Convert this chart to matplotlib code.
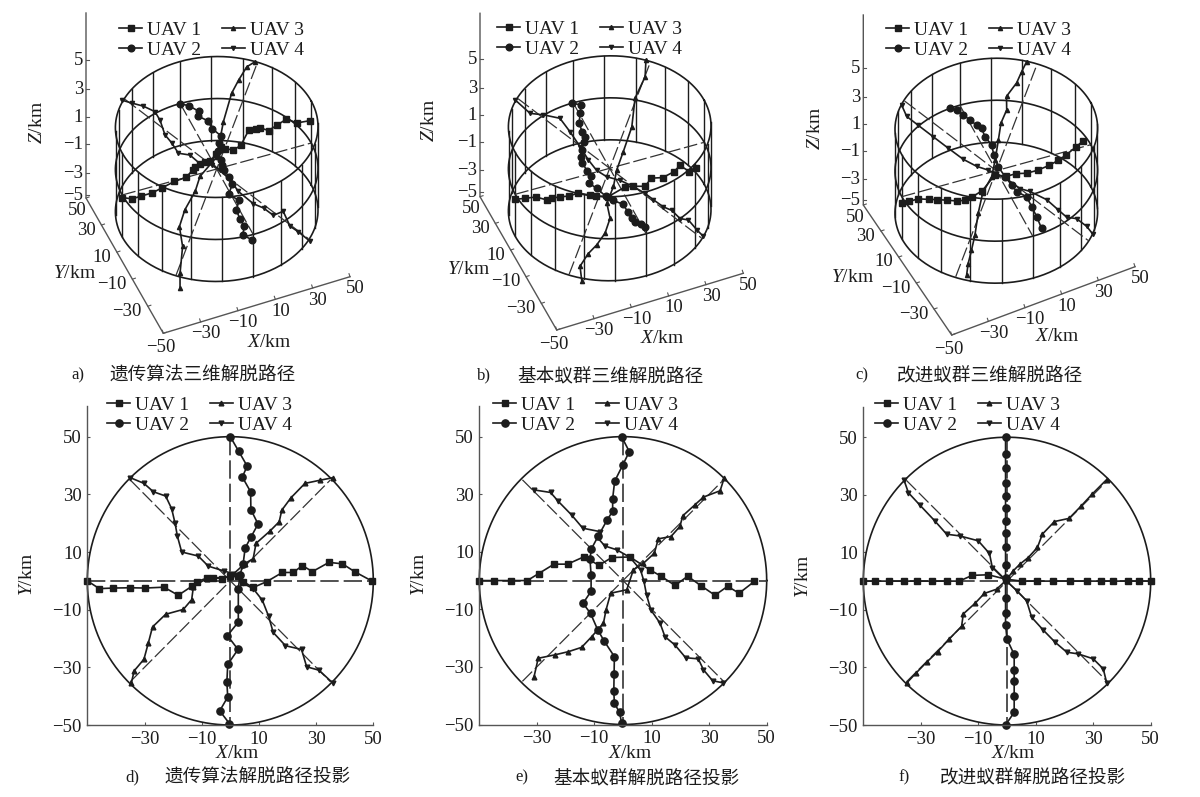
import numpy as np
import matplotlib
matplotlib.use("Agg")
import matplotlib.pyplot as plt

W, H = 1200, 797
plt.rcParams['font.family'] = ['Liberation Serif', 'Noto Sans CJK SC', 'DejaVu Sans']
plt.rcParams['mathtext.fontset'] = 'custom'
plt.rcParams['mathtext.it'] = 'Liberation Serif:italic'
plt.rcParams['mathtext.rm'] = 'Liberation Serif'

LABELS = ['UAV 1', 'UAV 2', 'UAV 3', 'UAV 4']
X_TICKS = [-30, -10, 10, 30, 50]
Y_TICKS = [-50, -30, -10, 10, 30, 50]
Z_TICKS = [-5, -3, -1, 1, 3, 5]
AXIS_3D_X = [-50, -30, -10, 10, 30, 50]

# planned straight paths
PLAN_X = [[-50, 50], [0, 0], [-35, 35], [-35, 35]]
PLAN_Y = [[0, 0], [50, -50], [-35, 35], [35, -35]]
PLAN_Z = [[0, 0], [0, 0], [-5, 5], [5, -5]]

# d) genetic algorithm, projection
D1_X = [-50, -45.8, -40.9, -35, -29.8, -23.2, -18.2, -13.3, -11.8, -8.3, -5.9, -3, 0, 2.8, 4.5, 8, 12.7, 18.2, 22, 25.2, 28.7, 34.5, 39.2, 43.6, 49.4]
D1_Y = [0, -2.7, -2.5, -2.4, -2.5, -2.2, -5, -1.8, -0.3, 0.9, 1, 0.8, 1.6, 1.6, -0.3, -2.3, -0.3, 2.9, 2.9, 5.3, 3.2, 6.4, 5.9, 3.1, 0]
D2_X = [0, 2.9, 5.9, 4.2, 7.1, 7.2, 9.7, 7.3, 5.2, 4.5, 3.4, 2.8, 2.8, 2.8, -1, 2.7, -0.9, -1.2, -0.9, -3.7, -0.3]
D2_Y = [50, 45, 39.8, 36, 30.9, 24.7, 19.7, 15.3, 11.4, 6, 2, -2.7, -9.6, -14.3, -19, -23.8, -29, -35.1, -40.3, -45.1, -49.5]
D3_X = [-34.6, -33.6, -30.2, -28.7, -27.2, -22.6, -16.4, -13.5, -12.9, -8.3, 0, 5.1, 8, 9, 13.9, 17.1, 18, 21.2, 26.1, 31.4, 36]
D3_Y = [-35.4, -31.2, -27.2, -21.7, -16, -11.6, -9.9, -6.5, -2, 0.8, 1.4, 6, 7.7, 13, 17.3, 20.5, 24.5, 28.8, 33.8, 34.9, 35.8]
D4_X = [-35, -30.2, -26.9, -22.6, -20.5, -19.3, -18.5, -17, -11.2, -7.7, -2.2, 1, 4.5, 8, 11.2, 13.4, 15, 19.3, 24.9, 26.7, 31, 35.8]
D4_Y = [35.8, 33.8, 30.9, 29.4, 25, 19.9, 15.5, 10, 8.6, 5.1, 3.4, 2.5, -0.9, -2.7, -6.7, -12.3, -17.9, -22.5, -23.8, -29.8, -31, -35.4]

# e) basic ant colony, projection
E1_X = [-50, -44.9, -39, -33.3, -29.4, -24, -19.3, -13.5, -8.4, -3.9, 2.4, 9.4, 13.1, 18.1, 22.5, 27.3, 32, 36.4, 40.4, 45.7]
E1_Y = [0, 0, 0, 0, 2.4, 5.7, 5.7, 8.3, 5.3, 8, 8.2, 3.7, 1.6, -1.7, 1.5, -1.9, -5.1, -2, -4.4, -0.3]
E2_X = [-0.5, 2.2, -0.1, -2.9, -3.6, -3.6, -5.6, -8.6, -11, -11.5, -11.1, -11.1, -13.9, -11.3, -8.8, -6.5, -3, -3.1, -3.2, -3, -1.2, -0.5]
E2_Y = [50, 44.8, 40.1, 34.5, 28.5, 24.1, 20.9, 15.5, 11, 7.5, 2, -3.7, -7.9, -11.4, -17.1, -21.1, -26.4, -32.6, -38.4, -42.6, -45.8, -49.4]
E3_X = [-31, -29.5, -23.7, -19, -14.4, -10.9, -6.8, -5.9, -4.3, 1.3, 3.6, 7.1, 10.9, 12.3, 16.7, 19.8, 20.8, 25, 28, 33.8, 35.2]
E3_Y = [-33.6, -27, -25.8, -24.7, -23.2, -19.5, -14.8, -10.2, -4.4, -3.2, 3.7, 6, 9.5, 14.5, 15.3, 18.8, 22.5, 26.3, 29, 31.2, 35.6]
E4_X = [-31, -25.2, -22.5, -17.9, -14, -8, -9.2, -6.3, -2.2, 2.4, 6.1, 7.3, 8.2, 9.7, 12.9, 14.6, 18.1, 21.8, 26.2, 28, 31.2, 34.7]
E4_Y = [31.5, 30.6, 27.5, 22.8, 18.2, 17, 15.3, 12, 10.7, 8.1, 3.7, -0.3, -5, -10.2, -14.8, -19.5, -22.4, -26.8, -27.2, -31, -34.8, -35.5]

# f) improved ant colony, projection
F1_X = [-50, -46, -41.2, -35.8, -31.2, -26.1, -21, -16.6, -12.1, -6.5, -0.5, 5.1, 10.6, 16.1, 21.9, 28, 32.7, 37, 42, 45.9, 50]
F1_Y = [0, 0, 0, 0, 0, 0, 0, 0, 2, 2.2, 0.7, 0, 0, 0, 0, 0, 0, 0, 0, 0, 0]
F2_X = [-0.5, -0.5, -0.5, -0.5, -0.5, -0.5, -0.5, -0.5, -0.5, -0.5, -0.5, -0.5, -0.5, -0.5, 0, 2.5, 2.5, 2.5, 2.5, 2.5, -0.5]
F2_Y = [50, 44.2, 39.3, 34.2, 29.5, 25.3, 21, 16.6, 11.7, 5.7, 1, -6, -11, -15.2, -20.2, -25.5, -30.9, -34.7, -39.8, -45.6, -50]
F3_X = [-34.9, -31.7, -28, -24.1, -20.1, -15.8, -15.2, -11.1, -7.9, -3.6, -0.5, 2.2, 4.5, 7.4, 10.6, 12.3, 16.5, 21.6, 25.8, 29.5, 34.7]
F3_Y = [-35.4, -32, -28.2, -24.5, -20.1, -15.7, -11.4, -7.7, -4.3, -2.8, 0.1, 3.6, 5.9, 8.2, 11.7, 16.3, 20.7, 21.8, 26.1, 30.1, 35.3]
F4_X = [-35.8, -34.3, -30.3, -25.1, -21, -16.4, -10, -6.1, -5.1, -0.5, 3.4, 6.8, 8.6, 12.6, 16.7, 20.8, 24.8, 30, 33.5, 34.7]
F4_Y = [35, 30.7, 26.4, 20.9, 16.3, 15.7, 14, 9.6, 4.7, 0.3, -3.3, -6.8, -12.6, -17, -21.2, -24.7, -25.3, -27, -30.5, -35.4]

# a) genetic algorithm, 3D
A1_Z = [-0.3, -0.3, -0.3, -0.3, 0, 0.3, 0.9, 1, 1, 1, 1, 1, 1.5, 2.2, 2.2, 2.1, 2.1, 3.1, 3, 2.5, 2.3, 2.1, 2.6, 2.3, 2.7]
A2_Z = [0, 0.3, 0.3, 0.4, 0.5, 0.5, 0.3, 0.2, 0.1, -0.1, 0, 0.1, 0.4, 0.3, 0, -0.2, -0.3, -0.4, -0.5, -0.6, -0.7]
A3_X = [-35.5, -33, -27.5, -25.6, -20.5, -13, -8.5, 2, 10.7, 18.9, 24.1, 29.8, 34.2]
A3_Y = [-41.7, -35.2, -24.5, -15.2, -9.5, -4.2, 0.9, 5.2, 18.5, 28.5, 32.5, 36, 36.2]
A3_Z = [-5.5, -4.9, -3.7, -2.9, -2.1, -1.2, -0.5, 0.5, 2.1, 3.4, 4, 4.7, 5]
A4_X = [-37, -32.2, -26.6, -21.4, -20.4, -20.8, -18.9, -17.4, -11.5, -7.8, -1.8, 1.6, 4.9, 7, 12.7, 17.1, 21, 27, 27.6, 31.1, 35.3]
A4_Y = [34.6, 33, 31.6, 29.2, 24.8, 17, 12.7, 7.4, 6.9, 2.6, 2, -0.4, -5.5, -11.6, -17.5, -19.9, -23.2, -21.2, -29, -31.5, -36.5]
A4_Z = [5.1, 4.7, 4.2, 3.6, 3.2, 2.7, 2.3, 1.8, 1.3, 0.7, 0.3, -0.1, -0.7, -1.3, -2.2, -2.6, -3.2, -3.4, -4, -4.5, -5.1]

# b) basic ant colony, 3D
B1_Z = [-0.6, -0.8, -1, -1.7, -2.1, -2.8, -3, -3.4, -3.5, -4.3, -4.8, -3.4, -3.2, -3, -2.8, -2.5, -1.6, -1.6, -2.2, -2.8]
B2_Z = [0, 0.4, 0.3, 0.2, 0.15, 0.15, 0.2, 0.3, 0.3, 0.2, 0, 0.3, 0.3, 0.1, -0.1, -0.1, 0, 0.1, 0.3, 0.4, 0.6, 0.7]
B3_X = [-30.7, -29, -23.3, -18.2, -12.7, -8.1, -7, -1.4, 2.7, 8.6, 16.4, 22.5, 30.4, 33.5]
B3_Y = [-41.3, -34.4, -30.9, -29.4, -26.5, -21.5, -14.2, -8.8, -2.5, 3.6, 12.2, 23.5, 30.2, 37.1]
B3_Z = [-5.1, -4.5, -3.9, -3.4, -2.8, -2.1, -1.5, -0.7, 0, 0.9, 2, 3.3, 4.3, 5]
B4_X = [-36.9, -31.5, -24.7, -16.5, -13.8, -11.5, -9.8, -7.4, -3.3, 3.2, 9, 13.9, 16.9, 21, 24.8, 27.6, 31.7, 34.1, 36.3]
B4_Y = [34.3, 27.5, 26.9, 25.5, 18.6, 10.9, 4, -1.2, -4.5, -6, -9.2, -12.5, -15.9, -19.2, -20.8, -25, -25.7, -30.9, -34.3]
B4_Z = [5.1, 4.2, 3.7, 3, 2.3, 1.6, 1, 0.4, -0.1, -0.7, -1.3, -1.9, -2.3, -2.9, -3.3, -3.8, -4.1, -4.6, -5]

# c) improved ant colony, 3D
C1_X = [-50, -46, -41.2, -35.8, -31.2, -26.1, -21, -16.6, -12.1, -6.5, -0.5, 5.1, 10.6, 16.1, 21.9, 28, 32.7, 37, 42, 45.9]
C1_Y = [0, 0, 0, 0, 0, 0, 0, 0, 2, 2.2, 0.7, 0, 0, 0, 0, 0, 0, 0, 0, 0]
C1_Z = [-0.8, -0.8, -0.8, -1.2, -1.5, -1.9, -2.3, -2.5, -2.7, -2.3, -0.6, -1, -1, -1.3, -1.3, -1.1, -0.8, -0.4, 0.2, 0.7]
C2_X = [-5.3, -2.7, -0.9, 0.9, 2.6, 4.1, 3.5, 4.4, 2.9, 1.9, 2.5, 3.4, 4, 7.3, 7, 6.8, 6]
C2_Y = [49.7, 47.4, 42.8, 38.3, 33.8, 30.7, 24.6, 17.9, 10.8, 2.3, -5.6, -12.3, -17.6, -22.7, -30.2, -37.8, -46.4]
C2_Z = [0, 0, 0, 0, 0, 0, 0, 0, 0, 0, 0, 0, 0, 0, 0, 0, 0]
C3_X = [-30, -27.4, -23.8, -19.8, -14.8, -9.6, -3, 1.2, 5.9, 9.8, 14.5, 16.6, 23.2, 27.2, 31.1]
C3_Y = [-37, -32.4, -27.6, -22, -13.6, -6.2, -1.4, 4.8, 12.5, 19, 23.3, 29, 32.2, 35.8, 38.9]
C3_Z = [-4.8, -4.3, -3.7, -3, -2, -1.1, -0.3, 0.4, 1.3, 2.1, 2.7, 3.3, 4, 4.5, 5]
C4_X = [-37.4, -37.1, -32.6, -26.9, -21.2, -15.5, -9.6, -4.2, 2.5, 9.1, 13.8, 21.1, 25.3, 28.3, 33.4, 37.1, 38.8]
C4_Y = [32.8, 26.7, 22.6, 16.7, 10.8, 5.3, 2, 0.2, -3.1, -8.9, -10.4, -14.5, -19.5, -22.9, -23.6, -27.7, -31.6]
C4_Z = [5, 4.6, 3.9, 3.1, 2.3, 1.5, 0.8, 0.3, -0.4, -1.3, -1.7, -2.5, -3.2, -3.7, -4.1, -4.6, -5]

MARKERS = ['s', 'o', '^', 'v']
SIZES = [4.6, 5.2, 3.4, 3.4]
INK = '#1c1c1c'
GREY = '#555555'
FS = 14
TICK_FS = 13.5


def px_rect(x0, y0, x1, y1):
    return [x0 / W, 1 - y1 / H, (x1 - x0) / W, (y1 - y0) / H]


def project(x, y, z, c):
    x, y, z = np.asarray(x, float), np.asarray(y, float), np.asarray(z, float)
    return c[0] + 1.89 * x - 0.73 * y, c[1] - 0.52 * x - 1.31 * y - 8.4 * z


def make_legend(handles, xtext, ymid):
    fig.legend(handles, LABELS, ncols=2, loc='center left', frameon=False, fontsize=FS,
               bbox_to_anchor=((xtext - 29) / W, 1 - ymid / H), borderpad=0, borderaxespad=0,
               handlelength=1.2, handletextpad=0.25, columnspacing=1.05, labelspacing=0.12,
               labelcolor=INK)


def draw_panel_2d(rect, paths, xtext, ymid):
    # top of the axes runs on past y=50 up to about y=60.5
    ax = fig.add_axes(px_rect(*rect))
    ax.patch.set_alpha(0)
    ax.set_xlim(-50, 50)
    ax.set_ylim(-50, 60.5)
    for s in ['top', 'right']:
        ax.spines[s].set_visible(False)
    for s in ['left', 'bottom']:
        ax.spines[s].set_color(GREY)
        ax.spines[s].set_linewidth(1.0)
    ax.set_xticks(X_TICKS)
    ax.set_yticks(Y_TICKS)
    ax.tick_params(direction='in', length=2.5, width=0.8, color=GREY, labelsize=TICK_FS,
                   labelcolor=INK, pad=4)
    t = np.linspace(0, 2 * np.pi, 300)
    ax.plot(50 * np.cos(t), 50 * np.sin(t), color=INK, lw=1.2, clip_on=False)
    for i in range(4):
        ax.plot(PLAN_X[i], PLAN_Y[i], color='#333333', lw=1.2 if i < 2 else 0.9,
                dashes=(11, 3), clip_on=False)
    handles = []
    for i, (px, py) in enumerate(paths):
        h, = ax.plot(px, py, color=INK, lw=1.2, marker=MARKERS[i], ms=SIZES[i], clip_on=False)
        handles.append(h)
    make_legend(handles, xtext, ymid)


def draw_panel_3d(c, paths, origin, y_end, x_end, z_top, z_px, xtext, ymid):
    # cylinder
    t = np.linspace(0, 2 * np.pi, 300)
    for z in [-5, 0, 5]:
        sx, sy = project(50 * np.cos(t), 50 * np.sin(t), np.full_like(t, z), c)
        ov.plot(sx, sy, color=INK, lw=1.2)
    for ang in np.deg2rad(np.arange(0, 360, 18)):
        sx, sy = project([50 * np.cos(ang)] * 2, [50 * np.sin(ang)] * 2, [-5, 5], c)
        ov.plot(sx, sy, color=INK, lw=1.0)
    # planned
    for i in range(4):
        sx, sy = project(PLAN_X[i], PLAN_Y[i], PLAN_Z[i], c)
        ov.plot(sx, sy, color='#333333', lw=0.9, dashes=(11, 3))
    handles = []
    for i, (px, py, pz) in enumerate(paths):
        sx, sy = project(px, py, pz, c)
        h, = ov.plot(sx, sy, color=INK, lw=1.2, marker=MARKERS[i], ms=SIZES[i] - 0.4)
        handles.append(h)
    make_legend(handles, xtext, ymid)

    # frame of the axes box
    ox, oy = origin
    ov.plot([x_end[0], ox, y_end[0], y_end[0]], [x_end[1], oy, y_end[1], z_top],
            color=GREY, lw=1.0)
    for v in AXIS_3D_X:
        f = (v + 50) / 100
        tx, ty = ox + f * (x_end[0] - ox), oy + f * (x_end[1] - oy)
        ov.plot([tx, tx - 1, ], [ty, ty - 3], color=GREY, lw=0.8)
        ov.text(tx + 5 if v > -50 else tx - 3, ty + 12 if v > -50 else ty + 14,
                str(v).replace('-', '\u2212'),
                fontsize=TICK_FS, color=INK, ha='center', va='center')
        ux, uy = ox + f * (y_end[0] - ox), oy + f * (y_end[1] - oy)
        ov.plot([ux, ux + 3], [uy, uy - 1], color=GREY, lw=0.8)
        if v == 50:
            ov.text(ux + 1, uy + 12, str(v), fontsize=TICK_FS, color=INK, ha='right', va='center')
        elif v > -50:
            ov.text(ux - 6, uy + 5, str(v).replace('-', '\u2212'), fontsize=TICK_FS,
                    color=INK, ha='right', va='center')
    for v, yz in zip(Z_TICKS, z_px):
        ov.plot([y_end[0], y_end[0] + 3], [yz, yz], color=GREY, lw=0.8)
        ov.text(y_end[0] - 3, yz, str(v).replace('-', '\u2212'), fontsize=TICK_FS, color=INK,
                ha='right', va='center')


def axis_text(x, y, s, rot=0):
    ov.text(x, y, s, fontsize=14, color=INK, ha='center', va='center', rotation=rot)


def caption(xa, xt, y, tag, s):
    ov.text(xa, y, tag, fontsize=12, color=INK, ha='left', va='center')
    ov.text(xt, y + 1, s, fontsize=13.4, color=INK, ha='left', va='center',
            family=['Noto Sans CJK SC', 'DejaVu Sans'])


fig = plt.figure(figsize=(W / 100, H / 100), dpi=100)
ov = fig.add_axes([0, 0, 1, 1])
ov.set_xlim(0, W)
ov.set_ylim(H, 0)
ov.axis('off')

draw_panel_3d((216.7, 169), [(D1_X, D1_Y, A1_Z), (D2_X, D2_Y, A2_Z), (A3_X, A3_Y, A3_Z), (A4_X, A4_Y, A4_Z)],
              (163.3, 333.3), (86, 198), (350, 276.7), 13, [195, 173, 144, 117, 89, 60], 148, 40)
draw_panel_3d((609.7, 168.3), [(E1_X, E1_Y, B1_Z), (E2_X, E2_Y, B2_Z), (B3_X, B3_Y, B3_Z), (B4_X, B4_Y, B4_Z)],
              (556.7, 330), (480, 196.7), (743.3, 273.3), 13.3, [192, 170, 142, 115, 88, 59], 526, 39)
draw_panel_3d((996.3, 170.7), [(C1_X, C1_Y, C1_Z), (C2_X, C2_Y, C2_Z), (C3_X, C3_Y, C3_Z), (C4_X, C4_Y, C4_Z)],
              (951.7, 335), (863.3, 205), (1135, 266.7), 15, [200, 179, 151, 124, 97, 68], 915, 40)

draw_panel_2d((87.3, 406.4, 373.3, 725), [(D1_X, D1_Y), (D2_X, D2_Y), (D3_X, D3_Y), (D4_X, D4_Y)], 136, 415)
draw_panel_2d((479.3, 406.4, 766.7, 724.5), [(E1_X, E1_Y), (E2_X, E2_Y), (E3_X, E3_Y), (E4_X, E4_Y)], 522, 415)
draw_panel_2d((863.3, 407, 1150.7, 725), [(F1_X, F1_Y), (F2_X, F2_Y), (F3_X, F3_Y), (F4_X, F4_Y)], 904, 415)

XL, YL, ZL = r'$\mathit{X}$/km', r'$\mathit{Y}$/km', r'$\mathit{Z}$/km'
axis_text(37, 123, ZL, 90)
axis_text(429, 121, ZL, 90)
axis_text(815, 129, ZL, 90)
axis_text(74, 274, YL)
axis_text(468, 269, YL)
axis_text(852, 278, YL)
axis_text(269, 342, XL)
axis_text(662, 338, XL)
axis_text(1057, 336, XL)
axis_text(237, 754, XL)
axis_text(630, 754, XL)
axis_text(1013, 754, XL)
axis_text(28, 575, YL, 90)
axis_text(420, 575, YL, 90)
axis_text(804, 577, YL, 90)

caption(71, 110, 375, 'a)', '遗传算法三维解脱路径')
caption(477, 517, 375, 'b)', '基本蚁群三维解脱路径')
caption(855, 897, 375, 'c)', '改进蚁群三维解脱路径')
caption(125, 165, 777, 'd)', '遗传算法解脱路径投影')
caption(515, 553, 777, 'e)', '基本蚁群解脱路径投影')
caption(898, 940, 777, 'f)', '改进蚁群解脱路径投影')

fig.savefig('out.png', dpi=100)
